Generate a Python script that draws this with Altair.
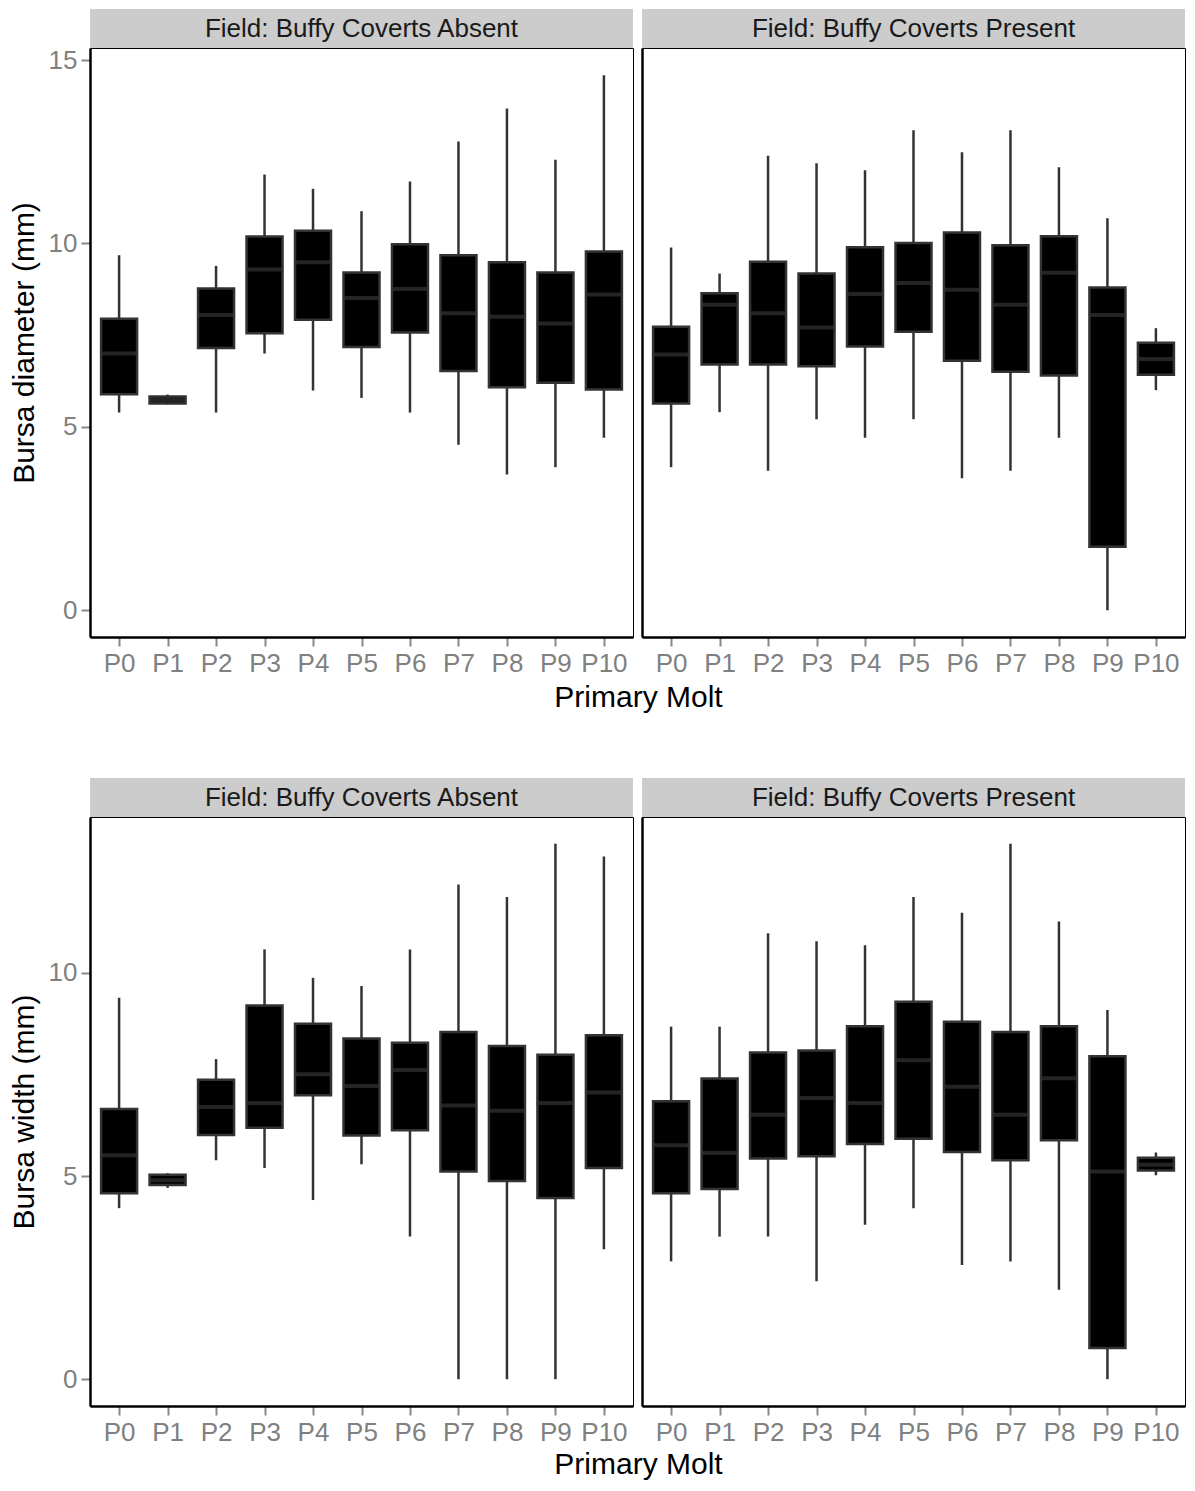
import altair as alt
import pandas as pd

categories = ["P0", "P1", "P2", "P3", "P4", "P5", "P6", "P7", "P8", "P9", "P10"]
strip_labels = ["Field: Buffy Coverts Absent", "Field: Buffy Coverts Present"]

# Bursa diameter, Buffy coverts absent
diam_abs_lo = [5.39, 5.61, 5.39, 7.00, 5.99, 5.79, 5.39, 4.51, 3.70, 3.90, 4.70]
diam_abs_q1 = [5.89, 5.64, 7.15, 7.55, 7.92, 7.18, 7.57, 6.52, 6.08, 6.20, 6.02]
diam_abs_md = [7.00, 5.73, 8.05, 9.29, 9.49, 8.51, 8.76, 8.10, 8.00, 7.82, 8.61]
diam_abs_q3 = [7.95, 5.83, 8.77, 10.19, 10.35, 9.21, 9.98, 9.68, 9.49, 9.21, 9.78]
diam_abs_hi = [9.68, 5.88, 9.39, 11.88, 11.49, 10.88, 11.69, 12.78, 13.68, 12.28, 14.59]

# Bursa diameter, Buffy coverts present
diam_pre_lo = [3.90, 5.40, 3.80, 5.21, 4.70, 5.21, 3.60, 3.80, 4.70, 0.00, 6.00]
diam_pre_q1 = [5.64, 6.70, 6.70, 6.65, 7.19, 7.59, 6.80, 6.50, 6.40, 1.73, 6.42]
diam_pre_md = [6.97, 8.33, 8.10, 7.71, 8.62, 8.92, 8.74, 8.33, 9.20, 8.05, 6.85]
diam_pre_q3 = [7.73, 8.64, 9.50, 9.18, 9.90, 10.01, 10.30, 9.95, 10.20, 8.80, 7.29]
diam_pre_hi = [9.89, 9.18, 12.39, 12.19, 12.00, 13.09, 12.49, 13.09, 12.08, 10.69, 7.69]

# Bursa width, Buffy coverts absent
wid_abs_lo = [4.21, 4.71, 5.39, 5.20, 4.41, 5.29, 3.51, 0.00, 0.00, 0.00, 3.20]
wid_abs_q1 = [4.58, 4.78, 6.01, 6.19, 6.99, 6.00, 6.13, 5.11, 4.88, 4.46, 5.20]
wid_abs_md = [5.51, 4.90, 6.70, 6.80, 7.51, 7.22, 7.61, 6.74, 6.61, 6.80, 7.06]
wid_abs_q3 = [6.65, 5.03, 7.37, 9.20, 8.75, 8.39, 8.28, 8.55, 8.20, 7.99, 8.47]
wid_abs_hi = [9.39, 5.07, 7.88, 10.58, 9.88, 9.68, 10.58, 12.18, 11.87, 13.18, 12.87]

# Bursa width, Buffy coverts present
wid_pre_lo = [2.90, 3.51, 3.51, 2.41, 3.80, 4.21, 2.81, 2.90, 2.20, 0.00, 5.02]
wid_pre_q1 = [4.58, 4.68, 5.43, 5.49, 5.79, 5.92, 5.59, 5.39, 5.88, 0.77, 5.14]
wid_pre_md = [5.76, 5.57, 6.51, 6.92, 6.80, 7.85, 7.20, 6.51, 7.41, 5.11, 5.28]
wid_pre_q3 = [6.84, 7.40, 8.04, 8.09, 8.69, 9.29, 8.80, 8.55, 8.69, 7.95, 5.45]
wid_pre_hi = [8.68, 8.68, 10.98, 10.78, 10.68, 11.87, 11.48, 13.18, 11.27, 9.09, 5.58]

FONT = "Liberation Sans"
W = 543
H = 589
STRIP_H = 39


def make_df(lo, q1, md, q3, hi):
    return pd.DataFrame({"molt": categories, "lo": lo, "q1": q1, "md": md, "q3": q3, "hi": hi})


def panel(df, strip_label, domain, tick_vals, ytitle, first, xtitle_pad=6):
    xaxis = alt.Axis(
        title="Primary Molt" if first else None,
        titleX=W + 5,
        titleAlign="center",
        titleFontSize=30,
        titleFont=FONT,
        titleFontWeight="normal",
        titleColor="black",
        titlePadding=xtitle_pad,
        labelAngle=0,
    )
    x = alt.X("molt:N", sort=categories, scale=alt.Scale(type="point", padding=0.6), axis=xaxis)
    if first:
        yaxis = alt.Axis(
            title=ytitle,
            values=tick_vals,
            titleFontSize=30,
            titleFont=FONT,
            titleFontWeight="normal",
            titleColor="black",
            titlePadding=9,
        )
    else:
        yaxis = alt.Axis(title=None, values=tick_vals, labels=False, ticks=False)
    yscale = alt.Scale(domain=domain, nice=False, zero=False)
    base = alt.Chart(df)
    whisk = base.mark_rule(color="#333333", strokeWidth=2.5).encode(
        x=x, y=alt.Y("lo:Q", scale=yscale, axis=yaxis), y2="hi:Q"
    )
    box = base.mark_bar(width=36, fill="black", stroke="#333333", strokeWidth=2.5).encode(
        x=x, y="q1:Q", y2="q3:Q"
    )
    med = base.mark_tick(size=35, thickness=4, color="#333333").encode(x=x, y="md:Q")
    sdf = pd.DataFrame({"label": [strip_label]})
    srect = alt.Chart(sdf).mark_rect(color="#CCCCCC").encode(
        x=alt.value(0), x2=alt.value(W), y=alt.value(-STRIP_H), y2=alt.value(0)
    )
    stext = alt.Chart(sdf).mark_text(fontSize=26, font=FONT, color="#1A1A1A").encode(
        x=alt.value(W / 2), y=alt.value(-STRIP_H / 2), text="label:N"
    )
    return alt.layer(srect, stext, whisk, box, med).properties(width=W, height=H)


row1 = alt.hconcat(
    panel(make_df(diam_abs_lo, diam_abs_q1, diam_abs_md, diam_abs_q3, diam_abs_hi),
          strip_labels[0], [-0.73, 15.33], [0, 5, 10, 15], "Bursa diameter (mm)", True),
    panel(make_df(diam_pre_lo, diam_pre_q1, diam_pre_md, diam_pre_q3, diam_pre_hi),
          strip_labels[1], [-0.73, 15.33], [0, 5, 10, 15], "Bursa diameter (mm)", False),
    spacing=9, bounds="flush",
)
row2 = alt.hconcat(
    panel(make_df(wid_abs_lo, wid_abs_q1, wid_abs_md, wid_abs_q3, wid_abs_hi),
          strip_labels[0], [-0.66, 13.84], [0, 5, 10], "Bursa width (mm)", True, xtitle_pad=4),
    panel(make_df(wid_pre_lo, wid_pre_q1, wid_pre_md, wid_pre_q3, wid_pre_hi),
          strip_labels[1], [-0.66, 13.84], [0, 5, 10], "Bursa width (mm)", False, xtitle_pad=4),
    spacing=9, bounds="flush",
)

chart = alt.vconcat(row1, row2, spacing=64).properties(
    padding={"left": 0, "top": 0, "right": 0, "bottom": 0},
    background="white",
).configure_view(
    stroke="black", strokeWidth=1
).configure_axis(
    grid=False,
    domainColor="black",
    domainWidth=2.5,
    tickColor="#888888",
    tickWidth=2,
    tickSize=9,
    labelColor="#808080",
    labelFontSize=26,
    labelFont=FONT,
    labelPadding=4,
)

chart.save("out.html", embed_options={"renderer": "svg", "actions": False})
